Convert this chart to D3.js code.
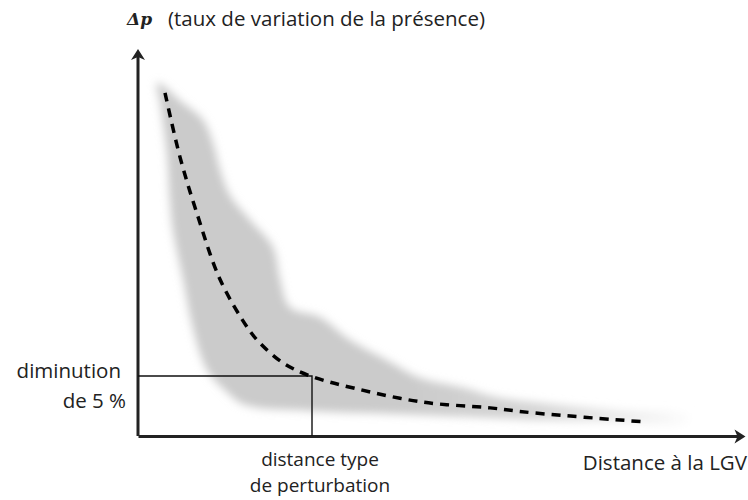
<!DOCTYPE html>
<html>
<head>
<meta charset="utf-8">
<script src="https://cdn.jsdelivr.net/npm/d3@7"></script>
<style>
  body { margin: 0; background: #fff; }
  text { font-family: "Open Sans", "Noto Sans", sans-serif; fill: #222; }
</style>
</head>
<body>
<script>
// courbe moyenne (distance, delta p)
var curveX = [4.5, 7, 9.8, 13.7, 18.3, 20.3, 24.2, 28.7, 36.5, 47.5, 58.7, 65.8, 84.5];
var curveY = [90.3, 73.4, 58.7, 41.1, 28.4, 24.5, 19.2, 15.8, 12.4, 8.9, 7.4, 6.1, 3.7];

// enveloppe grise : bord haut puis bord bas
var bandTopX = [3.2, 7.5, 10.8, 12.5, 13.7, 15.3, 18.7, 22.5, 23.7, 25.3, 30.3, 35.3, 42, 47, 54.5, 59.5, 70.3, 80.3, 92];
var bandTopY = [92.9, 87.6, 83.2, 77.1, 70, 63.4, 56.8, 49.7, 41.1, 33.9, 31.3, 25.3, 19.5, 15.3, 12.6, 10.3, 8.2, 6.8, 5.5];
var bandLowX = [92, 80.3, 67, 55.3, 43.7, 28.7, 17.8, 14.8, 11.5, 9.2, 7.5, 5.8, 5.3, 4.8, 3.7];
var bandLowY = [3.4, 3.7, 4.2, 5, 5.8, 6.6, 8.2, 11.6, 17.4, 27.9, 41.1, 54.2, 62.1, 74.5, 87.6];

// seuil : diminution de 5 %
var seuilX = 29;
var seuilY = 15.8;

var labels = {
    yTitle: "(taux de variation de la présence)",
    xTitle: "Distance à la LGV",
    seuilY: ["diminution", "de 5 %"],
    seuilX: ["distance type", "de perturbation"]
};

var width = 748, height = 500;
var fs = "20.5px";

var x = d3.scaleLinear().domain([0, 100]).range([138, 738]);
var y = d3.scaleLinear().domain([0, 100]).range([436, 56]);

var svg = d3.select("body").append("svg")
    .attr("width", width)
    .attr("height", height);

var defs = svg.append("defs");
defs.append("filter").attr("id", "flou")
    .attr("x", "-20%").attr("y", "-20%").attr("width", "140%").attr("height", "140%")
    .append("feGaussianBlur").attr("stdDeviation", 4);

var grad = defs.append("linearGradient").attr("id", "fondu")
    .attr("gradientUnits", "userSpaceOnUse")
    .attr("x1", x(45)).attr("x2", x(93)).attr("y1", 0).attr("y2", 0);
grad.append("stop").attr("offset", 0).attr("stop-color", "#cbcbcb");
grad.append("stop").attr("offset", 0.45).attr("stop-color", "#d6d6d6");
grad.append("stop").attr("offset", 1).attr("stop-color", "#ffffff");

defs.append("marker").attr("id", "fleche")
    .attr("markerUnits", "userSpaceOnUse")
    .attr("viewBox", "-12 -8 14 16")
    .attr("markerWidth", 14).attr("markerHeight", 16)
    .attr("refX", -6).attr("refY", 0)
    .attr("orient", "auto")
    .append("path")
    .attr("d", "M-10,-7 L1,0 L-10,7 L-7,0 Z")
    .attr("fill", "#222");

// enveloppe
var band = [];
bandTopX.forEach(function (v, i) { band.push([v, bandTopY[i]]); });
bandLowX.forEach(function (v, i) { band.push([v, bandLowY[i]]); });

var bandLine = d3.line()
    .x(function (d) { return x(d[0]); })
    .y(function (d) { return y(d[1]); })
    .curve(d3.curveCatmullRomClosed);

svg.append("path")
    .datum(band)
    .attr("d", bandLine)
    .attr("fill", "url(#fondu)")
    .attr("filter", "url(#flou)");

// axes sans graduations
var xAxis = svg.append("g")
    .attr("transform", "translate(0," + y(0) + ")")
    .call(d3.axisBottom(x).tickValues([]).tickSizeOuter(0));
xAxis.select(".domain")
    .attr("stroke", "#222").attr("stroke-width", 3)
    .attr("marker-end", "url(#fleche)");

var yAxis = svg.append("g")
    .attr("transform", "translate(" + x(0) + ",0)")
    .call(d3.axisLeft(y).tickValues([]).tickSizeOuter(0));
yAxis.select(".domain")
    .attr("stroke", "#222").attr("stroke-width", 3)
    .attr("d", "M0," + y(0) + "V" + y(100))
    .attr("marker-end", "url(#fleche)");

// lignes de seuil
svg.append("path")
    .attr("d", "M" + x(0) + "," + y(seuilY) + "H" + x(seuilX) + "V" + y(0))
    .attr("fill", "none")
    .attr("stroke", "#111")
    .attr("stroke-width", 1.4);

// courbe moyenne en tirets
var pts = curveX.map(function (v, i) { return [v, curveY[i]]; });
svg.append("path")
    .datum(pts)
    .attr("d", d3.line()
        .x(function (d) { return x(d[0]); })
        .y(function (d) { return y(d[1]); })
        .curve(d3.curveCatmullRom))
    .attr("fill", "none")
    .attr("stroke", "#000")
    .attr("stroke-width", 3.5)
    .attr("stroke-dasharray", "9,7");

// textes
svg.append("text").attr("x", 127).attr("y", 25)
    .style("font-family", "'DejaVu Serif', serif")
    .style("font-weight", "bold").style("font-style", "italic")
    .style("font-size", "17px")
    .text("Δp");
svg.append("text").attr("x", 168).attr("y", 26)
    .style("font-size", fs)
    .text(labels.yTitle);

svg.append("text").attr("x", 747).attr("y", 470)
    .attr("text-anchor", "end")
    .style("font-size", fs)
    .text(labels.xTitle);

labels.seuilY.forEach(function (s, i) {
    svg.append("text").attr("x", 121 + i * 5).attr("y", 378 + i * 30)
        .attr("text-anchor", "end")
        .style("font-size", fs)
        .text(s);
});
labels.seuilX.forEach(function (s, i) {
    svg.append("text").attr("x", x(seuilX) + 8).attr("y", 466 + i * 26)
        .attr("text-anchor", "middle")
        .style("font-size", "19px")
        .text(s);
});
</script>
</body>
</html>
